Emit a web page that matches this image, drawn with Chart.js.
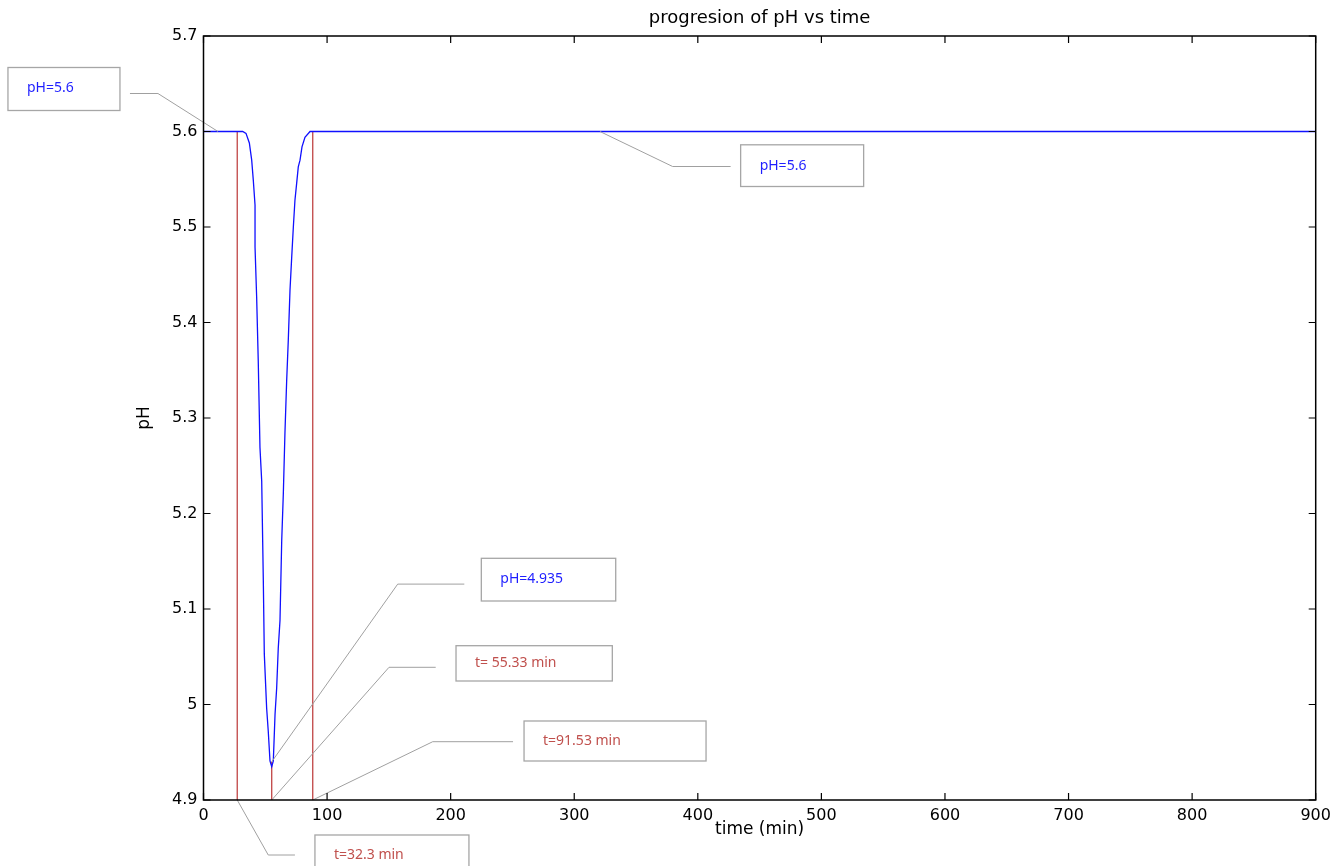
<!DOCTYPE html>
<html>
<head>
<meta charset="utf-8">
<script src="https://cdn.jsdelivr.net/npm/chart.js@4.4.1/dist/chart.umd.min.js"></script>
<style>
  html, body { margin: 0; padding: 0; background: #fff; }
  #phChart { display: block; }
</style>
</head>
<body>
<canvas id="phChart" width="1343" height="866"></canvas>
<script>
// pH curve (time in min)
const timeValues = [0, 31.7, 34.4, 37.1, 39.0, 40.3, 41.7, 41.7, 43.0, 44.3, 45.7, 47.1, 48.4, 49.2, 51.1, 52.4, 53.8, 55.2,
    56.5, 57.9, 59.2, 60.5, 61.9, 63.3, 64.6, 65.9, 67.3, 68.6, 70.0, 71.4, 72.7, 74.0, 75.4, 76.7, 78.1, 79.7, 82.1, 86.2, 900];
const phValues = [5.6, 5.6, 5.598, 5.588, 5.570, 5.549, 5.523, 5.479, 5.427, 5.360, 5.269, 5.234, 5.130, 5.053, 4.996, 4.972, 4.941, 4.935,
    4.941, 4.990, 5.017, 5.059, 5.088, 5.172, 5.221, 5.284, 5.339, 5.381, 5.434, 5.469, 5.500, 5.528, 5.546, 5.563, 5.570, 5.584, 5.594, 5.600, 5.600];

// red vertical markers
const markerTimes = [27.3, 55.2, 88.4];
const markerTops = [5.6, 4.94, 5.6];
const markerBase = 4.9;

const xTicks = [0, 100, 200, 300, 400, 500, 600, 700, 800, 900];
const xTickLabels = ['0', '100', '200', '300', '400', '500', '600', '700', '800', '900'];
const yTicks = [4.9, 5.0, 5.1, 5.2, 5.3, 5.4, 5.5, 5.6, 5.7];
const yTickLabels = ['4.9', '5', '5.1', '5.2', '5.3', '5.4', '5.5', '5.6', '5.7'];

// callouts: text and the point they point at
const calloutTexts = ['pH=5.6', 'pH=5.6', 'pH=4.935', 't= 55.33 min', 't=91.53 min', 't=32.3 min'];
const calloutTimes = [11.7, 320.8, 55.2, 55.2, 88.4, 27.3];
const calloutPH = [5.6, 5.6, 4.94, 4.9, 4.9, 4.9];
const calloutColors = ['#1f1fff', '#1f1fff', '#1f1fff', '#c0504d', '#c0504d', '#c0504d'];

// callout layout, pixel offsets from the anchor: elbow, line end, box [dx, dy, w, h]
const calloutLayout = [
    { elbow: [-60, -38], end: [-88, -38], box: [-210, -64, 112, 43] },
    { elbow: [72.7, 35], end: [130.7, 35], box: [140.7, 13.3, 123, 41.7] },
    { elbow: [126, -177.7], end: [192.6, -177.7], box: [209.6, -203.5, 134.4, 42.7] },
    { elbow: [117.3, -132.7], end: [164, -132.7], box: [184.3, -154.3, 156.3, 35.3] },
    { elbow: [120, -58.3], end: [200.3, -58.3], box: [211.3, -79, 182, 40] },
    { elbow: [31, 55], end: [57.7, 55], box: [77.7, 35, 154, 40] }
];

const axisFont = 'DejaVu Sans';

let datasets = [{
    label: 'pH',
    data: timeValues.map((t, k) => ({ x: t, y: phValues[k] })),
    borderColor: '#1010ff',
    borderWidth: 1.3,
    pointRadius: 0,
    tension: 0,
    order: 1
}];

markerTimes.forEach((t, k) => {
    datasets.push({
        label: 'marker' + k,
        data: [{ x: t, y: markerTops[k] }, { x: t, y: markerBase }],
        borderColor: '#c04444',
        borderWidth: 1.3,
        pointRadius: 0,
        order: 2
    });
});

const framePlugin = {
    id: 'frame',
    afterDatasetsDraw(chart) {
        const ctx = chart.ctx;
        const a = chart.chartArea;
        const xs = chart.scales.x;
        const ys = chart.scales.y;
        ctx.save();

        // callouts
        calloutTexts.forEach((text, k) => {
            const px = xs.getPixelForValue(calloutTimes[k]);
            const py = ys.getPixelForValue(calloutPH[k]);
            const l = calloutLayout[k];
            ctx.strokeStyle = '#a0a0a0';
            ctx.lineWidth = 1;
            ctx.beginPath();
            ctx.moveTo(px, py);
            ctx.lineTo(px + l.elbow[0], py + l.elbow[1]);
            ctx.lineTo(px + l.end[0], py + l.end[1]);
            ctx.stroke();

            const bx = px + l.box[0], by = py + l.box[1], bw = l.box[2], bh = l.box[3];
            ctx.fillStyle = '#fff';
            ctx.fillRect(bx, by, bw, bh);
            ctx.strokeStyle = '#a6a6a6';
            ctx.lineWidth = 1.3;
            ctx.strokeRect(bx, by, bw, bh);
            ctx.fillStyle = calloutColors[k];
            ctx.font = '14px "Noto Sans"';
            ctx.textAlign = 'left';
            ctx.textBaseline = 'middle';
            ctx.fillText(text, bx + 19, by + Math.min(bh, 42) / 2);
        });

        // box round the plot
        ctx.strokeStyle = '#000';
        ctx.lineWidth = 1.5;
        ctx.strokeRect(a.left, a.top, a.right - a.left, a.bottom - a.top);

        // inward ticks on all sides
        ctx.lineWidth = 1.2;
        ctx.beginPath();
        xTicks.forEach(v => {
            const x = xs.getPixelForValue(v);
            ctx.moveTo(x, a.bottom); ctx.lineTo(x, a.bottom - 7);
            ctx.moveTo(x, a.top); ctx.lineTo(x, a.top + 7);
        });
        yTicks.forEach(v => {
            const y = ys.getPixelForValue(v);
            ctx.moveTo(a.left, y); ctx.lineTo(a.left + 7, y);
            ctx.moveTo(a.right, y); ctx.lineTo(a.right - 7, y);
        });
        ctx.stroke();

        // titles
        ctx.fillStyle = '#000';
        ctx.textAlign = 'center';
        ctx.textBaseline = 'middle';
        const cx = (a.left + a.right) / 2;
        ctx.font = '18px ' + axisFont;
        ctx.fillText('progresion of pH vs time', cx, a.top - 18);
        ctx.font = '17px ' + axisFont;
        ctx.fillText('time (min)', cx, a.bottom + 30);
        ctx.translate(a.left - 59, (a.top + a.bottom) / 2);
        ctx.rotate(-Math.PI / 2);
        ctx.fillText('pH', 0, 0);
        ctx.restore();
    }
};

const phChart = new Chart(document.getElementById('phChart'), {
    type: 'line',
    data: { datasets: datasets },
    options: {
        responsive: false,
        animation: false,
        devicePixelRatio: 1,
        layout: { padding: { left: 0, top: 36, right: 27.3, bottom: 0 } },
        plugins: {
            legend: { display: false },
            tooltip: { enabled: false },
            title: { display: false }
        },
        scales: {
            x: {
                type: 'linear',
                min: 0,
                max: 900,
                grid: { display: false, drawTicks: false },
                border: { display: false },
                afterBuildTicks: s => { s.ticks = xTicks.map(v => ({ value: v })); },
                afterFit: s => { s.height = 66; },
                ticks: {
                    callback: (v, i) => xTickLabels[i],
                    autoSkip: false,
                    maxRotation: 0,
                    padding: 6,
                    color: '#000',
                    font: { family: axisFont, size: 16 }
                }
            },
            y: {
                type: 'linear',
                min: 4.9,
                max: 5.7,
                grid: { display: false, drawTicks: false },
                border: { display: false },
                afterBuildTicks: s => { s.ticks = yTicks.map(v => ({ value: v })); },
                afterFit: s => { s.width = 203.5; },
                ticks: {
                    callback: (v, i) => yTickLabels[i],
                    autoSkip: false,
                    padding: 6,
                    color: '#000',
                    font: { family: axisFont, size: 16 }
                }
            }
        }
    },
    plugins: [framePlugin]
});
</script>
</body>
</html>
